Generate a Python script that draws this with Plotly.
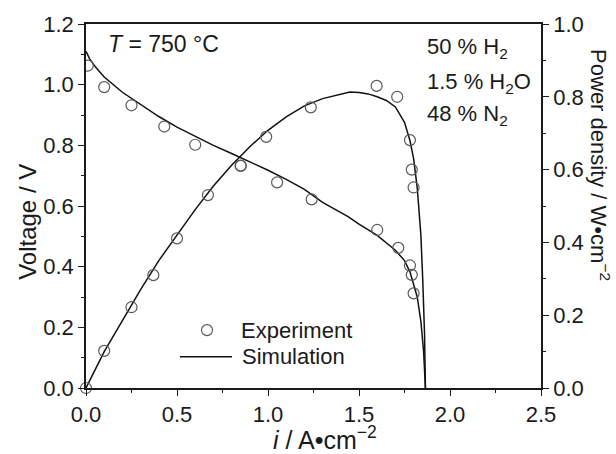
import plotly.graph_objects as go

# Experiment data
exp_i_v = [0.01, 0.10, 0.25, 0.43, 0.60, 0.85, 1.05, 1.24, 1.60, 1.716, 1.78, 1.79, 1.80]
exp_v = [1.063, 0.992, 0.932, 0.862, 0.802, 0.733, 0.678, 0.622, 0.521, 0.462, 0.404, 0.373, 0.312]

exp_i_p = [0.0, 0.10, 0.25, 0.37, 0.50, 0.67, 0.85, 0.99, 1.235, 1.597, 1.71, 1.78, 1.79, 1.80]
exp_p = [0.0, 0.102, 0.222, 0.31, 0.411, 0.53, 0.61, 0.69, 0.771, 0.83, 0.80, 0.681, 0.60, 0.551]

# Simulation curves
sim_i_v = [0.0, 0.02, 0.05, 0.1, 0.2, 0.3, 0.4, 0.5, 0.6, 0.7, 0.8, 0.9, 1.0, 1.1, 1.2,
           1.3, 1.44, 1.5, 1.6, 1.7, 1.75, 1.78, 1.82, 1.84, 1.855, 1.865]
sim_v = [1.11, 1.085, 1.06, 1.025, 0.975, 0.935, 0.895, 0.86, 0.83, 0.80, 0.773, 0.746, 0.718,
         0.688, 0.655, 0.612, 0.565, 0.54, 0.503, 0.454, 0.42, 0.383, 0.30, 0.22, 0.12, 0.0]

sim_i_p = [0.0, 0.1, 0.2, 0.3, 0.4, 0.5, 0.6, 0.7, 0.8, 0.9, 1.0, 1.1, 1.2, 1.3, 1.4, 1.45,
           1.5, 1.55, 1.6, 1.65, 1.7, 1.75, 1.78, 1.8, 1.82, 1.84, 1.85, 1.86, 1.865]
sim_p = [0.0, 0.1, 0.185, 0.27, 0.35, 0.42, 0.49, 0.555, 0.612, 0.663, 0.708, 0.745, 0.775,
         0.795, 0.808, 0.813, 0.812, 0.808, 0.80, 0.79, 0.772, 0.73, 0.68, 0.63, 0.55, 0.42,
         0.30, 0.15, 0.0]

legend_labels = ["Experiment", "Simulation"]

FONT = "Liberation Sans, Arial, sans-serif"
INK = "#1a1a1a"
GREY = "#5a5a5a"
line_style = dict(color="#111111", width=1.5)
marker_style = dict(symbol="circle-open", size=11, color=GREY, line=dict(width=1.2, color=GREY))

fig = go.Figure()
fig.add_trace(go.Scatter(x=sim_i_v, y=sim_v, mode="lines", line=line_style, name="Simulation", yaxis="y"))
fig.add_trace(go.Scatter(x=sim_i_p, y=sim_p, mode="lines", line=line_style, name="Simulation", yaxis="y2"))
fig.add_trace(go.Scatter(x=exp_i_v, y=exp_v, mode="markers", marker=marker_style, name="Experiment", yaxis="y"))
fig.add_trace(go.Scatter(x=exp_i_p, y=exp_p, mode="markers", marker=marker_style, name="Experiment",
                         yaxis="y2", cliponaxis=False))

axis_common = dict(showline=True, linecolor=INK, linewidth=1.5, ticks="outside", ticklen=6, tickwidth=1.2,
                   tickcolor=INK, showgrid=False, zeroline=False,
                   tickfont=dict(family=FONT, size=22, color=INK))
minor = dict(ticks="outside", ticklen=3, tickcolor=INK, tickwidth=1.2)

fig.update_layout(
    width=616, height=454,
    margin=dict(l=86, r=75, t=24, b=66),
    paper_bgcolor="white", plot_bgcolor="white",
    font=dict(family=FONT, color=INK),
    showlegend=False,
    xaxis=dict(range=[0, 2.5], dtick=0.5, tickformat=".1f", minor=dict(dtick=0.25, **minor),
               mirror=True, **axis_common),
    yaxis=dict(range=[0, 1.2], dtick=0.2, tickformat=".1f", minor=dict(dtick=0.1, **minor), **axis_common),
    yaxis2=dict(range=[0, 1.0], dtick=0.2, tickformat=".1f", overlaying="y", side="right",
                minor=dict(dtick=0.1, **minor), **axis_common),
)

# Manual legend (decoration, paper coordinates)
fig.add_shape(type="circle", xref="paper", yref="paper", xsizemode="pixel", ysizemode="pixel",
              xanchor=0.266, yanchor=0.159, x0=-5.5, x1=5.5, y0=-5.5, y1=5.5,
              line=dict(color=GREY, width=1.2))
fig.add_shape(type="line", xref="paper", yref="paper", x0=0.2066, x1=0.3209, y0=0.086, y1=0.086,
              line=dict(color="#111111", width=1.5))

annos = [
    dict(text=legend_labels[0], x=0.336, y=0.159, xanchor="left", yanchor="middle", size=22),
    dict(text=legend_labels[1], x=0.338, y=0.086, xanchor="left", yanchor="middle", size=22),
    dict(text="<i>i</i> / A•cm<sup>−2</sup>", x=0.525, y=-0.138, xanchor="center", yanchor="middle", size=25),
    dict(text="Voltage / V", x=-0.13, y=0.456, xanchor="center", yanchor="middle", size=24, textangle=-90),
    dict(text="Power density / W•cm<sup>−2</sup>", x=1.13, y=0.612, xanchor="center", yanchor="middle",
         size=22, textangle=90),
    dict(text="<i>T</i> = 750 °C", x=0.045, y=0.944, xanchor="left", yanchor="middle", size=23),
    dict(text="50 % H<sub>2</sub>", x=0.745, y=0.935, xanchor="left", yanchor="middle", size=22),
    dict(text="1.5 % H<sub>2</sub>O", x=0.745, y=0.838, xanchor="left", yanchor="middle", size=22),
    dict(text="48 % N<sub>2</sub>", x=0.745, y=0.751, xanchor="left", yanchor="middle", size=22),
]
for a in annos:
    size = a.pop("size")
    fig.add_annotation(showarrow=False, xref="paper", yref="paper",
                       font=dict(family=FONT, color=INK, size=size), **a)

fig.write_html("out.html")
